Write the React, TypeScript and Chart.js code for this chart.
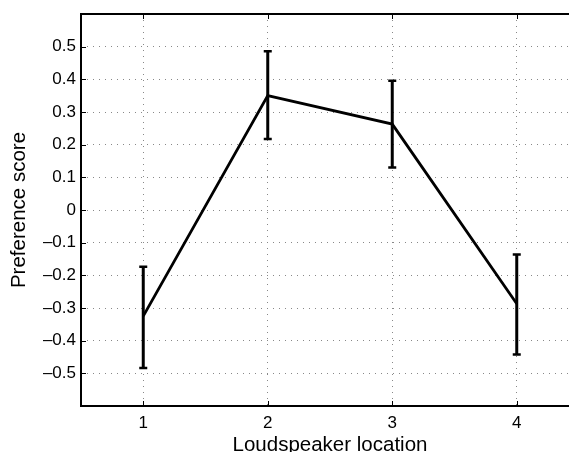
import React, { useEffect, useRef } from "react";
import { Chart, registerables } from "chart.js";

Chart.register(...registerables);

const locations = [1, 2, 3, 4];
const means = [-0.325, 0.35, 0.263, -0.287];
const upper = [-0.174, 0.486, 0.396, -0.136];
const lower = [-0.484, 0.217, 0.13, -0.442];
const xTicks = [1, 2, 3, 4];
const yMin = -0.6;
const yMax = 0.6;
const xMin = 0.5;
const xMax = 4.5;
const xTitle = "Loudspeaker location";
const yTitle = "Preference score";

const FONT = "'Liberation Sans', Arial, Helvetica, sans-serif";

const isEdge = (v: number) => Math.abs(Math.abs(v) - 0.6) < 1e-6;

const errorBars = {
  id: "errorBars",
  afterDatasetsDraw(chart: any) {
    const { ctx, scales } = chart;
    const x = scales.x;
    const y = scales.y;
    ctx.save();
    ctx.strokeStyle = "#000";
    ctx.lineCap = "butt";
    locations.forEach((loc, i) => {
      const px = x.getPixelForValue(loc);
      const t = y.getPixelForValue(upper[i]);
      const b = y.getPixelForValue(lower[i]);
      ctx.lineWidth = 3;
      ctx.beginPath();
      ctx.moveTo(px, t);
      ctx.lineTo(px, b);
      ctx.stroke();
      ctx.lineWidth = 2.5;
      ctx.beginPath();
      ctx.moveTo(px - 4, t);
      ctx.lineTo(px + 4, t);
      ctx.moveTo(px - 4, b);
      ctx.lineTo(px + 4, b);
      ctx.stroke();
    });
    ctx.restore();
  },
};

const boxAndTicks = {
  id: "boxAndTicks",
  afterDraw(chart: any) {
    const { ctx, chartArea, scales } = chart;
    const { left, right, top, bottom } = chartArea;
    ctx.save();
    ctx.strokeStyle = "#000";
    ctx.lineWidth = 1;
    ctx.beginPath();
    scales.x.ticks.forEach((t: any) => {
      const px = Math.round(scales.x.getPixelForValue(t.value)) + 0.5;
      ctx.moveTo(px, bottom);
      ctx.lineTo(px, bottom - 5);
      ctx.moveTo(px, top);
      ctx.lineTo(px, top + 5);
    });
    scales.y.ticks.forEach((t: any) => {
      if (isEdge(t.value)) return;
      const py = Math.round(scales.y.getPixelForValue(t.value)) + 0.5;
      ctx.moveTo(left, py);
      ctx.lineTo(left + 5, py);
      ctx.moveTo(right, py);
      ctx.lineTo(right - 5, py);
    });
    ctx.stroke();
    ctx.lineWidth = 2;
    ctx.strokeRect(left, top, right - left, bottom - top);
    ctx.restore();
  },
};

export default function App() {
  const ref = useRef<HTMLCanvasElement | null>(null);

  useEffect(() => {
    if (!ref.current) return;
    const chart = new Chart(ref.current, {
      type: "line",
      data: {
        datasets: [
          {
            data: locations.map((x, i) => ({ x, y: means[i] })),
            borderColor: "#000",
            borderWidth: 2.8,
            pointRadius: 0,
            fill: false,
            tension: 0,
          },
        ],
      },
      options: {
        animation: false,
        responsive: false,
        devicePixelRatio: 1,
        layout: { padding: { left: 0, top: 14, right: 21, bottom: 0 } },
        plugins: { legend: { display: false }, tooltip: { enabled: false } },
        scales: {
          x: {
            type: "linear",
            min: xMin,
            max: xMax,
            afterBuildTicks: (scale: any) => {
              scale.ticks = xTicks.map((v) => ({ value: v }));
            },
            afterFit: (scale: any) => {
              scale.height = 46;
              scale.paddingLeft = 0;
              scale.paddingRight = 0;
            },
            grid: {
              color: "#888",
              lineWidth: 1,
              drawTicks: false,
              borderDash: [1, 5],
            } as any,
            border: { display: false, dash: [1, 5] },
            ticks: {
              color: "#000",
              padding: 7,
              maxRotation: 0,
              font: { family: FONT, size: 17 },
              callback: (v: any) => String(v),
            },
            title: {
              display: true,
              text: xTitle,
              color: "#000",
              font: { family: FONT, size: 20.5, lineHeight: 1 },
              padding: { top: 0, bottom: -4 },
            },
          },
          y: {
            type: "linear",
            min: yMin,
            max: yMax,
            ticks: {
              stepSize: 0.1,
              color: "#000",
              padding: 5,
              font: { family: FONT, size: 17 },
              callback: (v: any) => {
                const n = Number(v);
                if (isEdge(n)) return "";
                const r = Math.round(n * 10) / 10;
                if (r === 0) return "0";
                return r < 0 ? "\u2013" + Math.abs(r).toFixed(1) : r.toFixed(1);
              },
            },
            afterFit: (scale: any) => {
              scale.width = 81;
              scale.paddingTop = 0;
              scale.paddingBottom = 0;
            },
            grid: {
              color: (c: any) => (c.tick && isEdge(c.tick.value) ? "rgba(0,0,0,0)" : "#888"),
              lineWidth: 1,
              drawTicks: false,
              borderDash: [1, 5],
            } as any,
            border: { display: false, dash: [1, 5] },
            title: {
              display: true,
              text: yTitle,
              color: "#000",
              font: { family: FONT, size: 20.5, lineHeight: 1 },
              padding: { top: 9, bottom: 0 },
            },
          },
        },
      },
      plugins: [errorBars, boxAndTicks],
    });
    return () => chart.destroy();
  }, []);

  return (
    <div
      style={{
        position: "fixed",
        left: 0,
        top: 0,
        width: 569,
        height: 452,
        overflow: "hidden",
        background: "#fff",
      }}
    >
      <canvas ref={ref} width={600} height={452} style={{ display: "block" }} />
    </div>
  );
}
